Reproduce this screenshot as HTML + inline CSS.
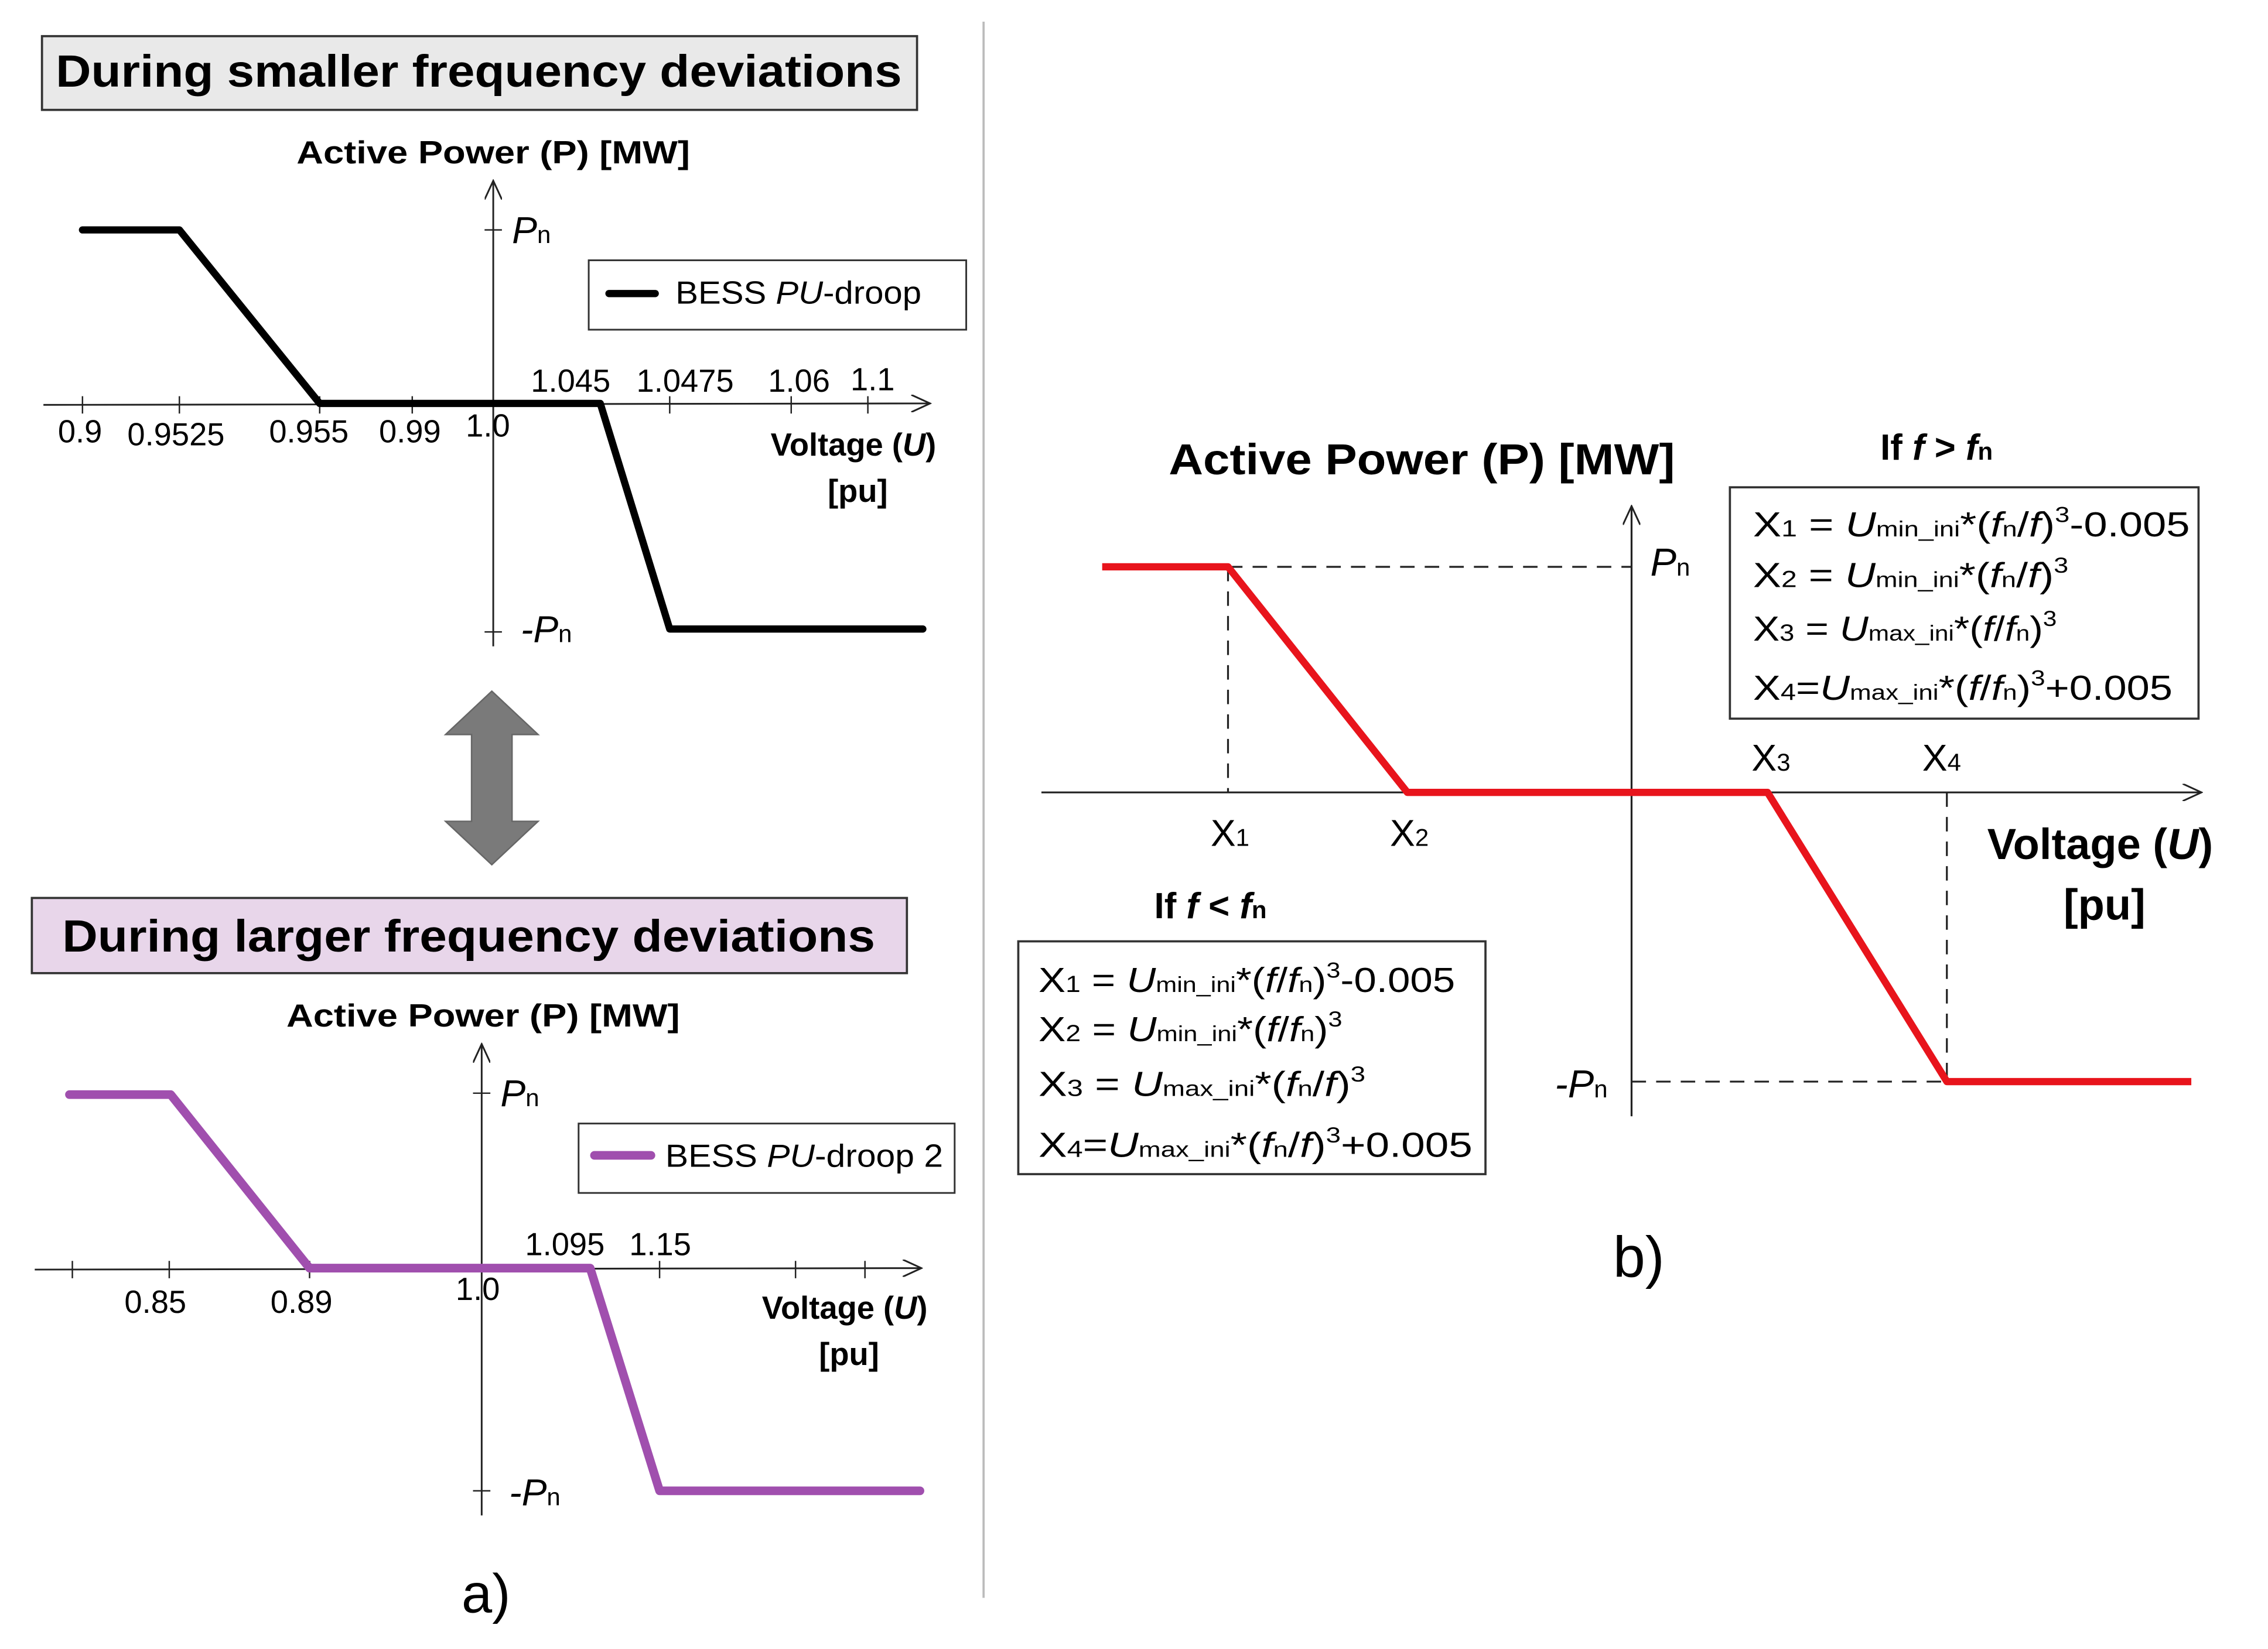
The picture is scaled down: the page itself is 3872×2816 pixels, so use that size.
<!DOCTYPE html>
<html><head><meta charset="utf-8"><style>
html,body{margin:0;padding:0;background:#fff;}
svg{display:block;}
text{font-family:"Liberation Sans",sans-serif;}
.b{font-weight:bold;}
</style></head><body>
<svg width="3872" height="2816" viewBox="0 0 1568 1140.4" xmlns="http://www.w3.org/2000/svg">
<defs>
<marker id="ar" markerWidth="14" markerHeight="12" refX="13" refY="6" orient="auto" markerUnits="userSpaceOnUse">
<path d="M0,0 L13,6 L0,12" fill="none" stroke="#222" stroke-width="1.2"/></marker>
</defs>
<rect width="1568" height="1140.4" fill="#fff"/>
<line x1="680" y1="15" x2="680" y2="1105" stroke="#bbb" stroke-width="1.5"/>

<!-- top-left -->
<rect x="29" y="25" width="605" height="51" fill="#e9e9e9" stroke="#333" stroke-width="1.5"/>
<text x="331" y="60" class="b" font-size="31" text-anchor="middle" textLength="585" lengthAdjust="spacingAndGlyphs">During smaller frequency deviations</text>
<text x="341" y="113" class="b" font-size="22" text-anchor="middle" textLength="272" lengthAdjust="spacingAndGlyphs">Active Power (P) [MW]</text>
<line x1="341" y1="447" x2="341" y2="125" stroke="#222" stroke-width="1.2" marker-end="url(#ar)"/>
<line x1="335" y1="159" x2="347" y2="159" stroke="#222"/>
<line x1="335" y1="437" x2="347" y2="437" stroke="#222"/>
<text x="354" y="168" font-size="26" font-style="italic">P<tspan font-size="17" font-style="normal">n</tspan></text>
<text x="360" y="444" font-size="26" font-style="italic">-P<tspan font-size="17" font-style="normal">n</tspan></text>
<rect x="407" y="180" width="261" height="48" fill="#fff" stroke="#333" stroke-width="1.2"/>
<line x1="421" y1="203" x2="453" y2="203" stroke="#000" stroke-width="5" stroke-linecap="round"/>
<text x="467" y="210" font-size="22" textLength="170" lengthAdjust="spacingAndGlyphs">BESS <tspan font-style="italic">PU</tspan>-droop</text>
<line x1="30" y1="280" x2="643" y2="279" stroke="#222" stroke-width="1.2" marker-end="url(#ar)"/>
<g stroke="#222"><line x1="57" y1="274" x2="57" y2="286"/><line x1="124" y1="274" x2="124" y2="286"/><line x1="221" y1="274" x2="221" y2="286"/><line x1="285" y1="274" x2="285" y2="286"/><line x1="463" y1="274" x2="463" y2="286"/><line x1="547" y1="274" x2="547" y2="286"/><line x1="600" y1="274" x2="600" y2="286"/></g>
<g font-size="22"><text x="40" y="306">0.9</text><text x="88" y="308">0.9525</text><text x="186" y="306">0.955</text><text x="262" y="306">0.99</text><text x="322" y="302">1.0</text>
<text x="367" y="271">1.045</text><text x="440" y="271">1.0475</text><text x="531" y="271">1.06</text><text x="588" y="270">1.1</text></g>
<polyline points="57,159 124,159 221,279 415,279 463,435 638,435" fill="none" stroke="#000" stroke-width="5" stroke-linejoin="round" stroke-linecap="round"/>
<text x="590" y="315" class="b" font-size="22" text-anchor="middle">Voltage (<tspan font-style="italic">U</tspan>)</text>
<text x="593" y="347" class="b" font-size="22" text-anchor="middle">[pu]</text>

<polygon points="340,478 372,508 354,508 354,568 372,568 340,598 308,568 326,568 326,508 308,508" fill="#7a7a7a" stroke="#666"/>

<!-- bottom-left -->
<rect x="22" y="621" width="605" height="52" fill="#e8d6ea" stroke="#333" stroke-width="1.5"/>
<text x="324" y="658" class="b" font-size="31" text-anchor="middle" textLength="562" lengthAdjust="spacingAndGlyphs">During larger frequency deviations</text>
<text x="334" y="710" class="b" font-size="22" text-anchor="middle" textLength="272" lengthAdjust="spacingAndGlyphs">Active Power (P) [MW]</text>
<line x1="333" y1="1048" x2="333" y2="722" stroke="#222" stroke-width="1.2" marker-end="url(#ar)"/>
<line x1="327" y1="756" x2="339" y2="756" stroke="#222"/>
<line x1="327" y1="1031" x2="339" y2="1031" stroke="#222"/>
<text x="346" y="765" font-size="26" font-style="italic">P<tspan font-size="17" font-style="normal">n</tspan></text>
<text x="352" y="1041" font-size="26" font-style="italic">-P<tspan font-size="17" font-style="normal">n</tspan></text>
<rect x="400" y="777" width="260" height="48" fill="#fff" stroke="#333" stroke-width="1.2"/>
<line x1="411" y1="799" x2="450" y2="799" stroke="#a04fae" stroke-width="6" stroke-linecap="round"/>
<text x="460" y="807" font-size="22" textLength="192" lengthAdjust="spacingAndGlyphs">BESS <tspan font-style="italic">PU</tspan>-droop 2</text>
<line x1="24" y1="878" x2="637" y2="877" stroke="#222" stroke-width="1.2" marker-end="url(#ar)"/>
<g stroke="#222"><line x1="50" y1="872" x2="50" y2="884"/><line x1="117" y1="872" x2="117" y2="884"/><line x1="214" y1="872" x2="214" y2="884"/><line x1="456" y1="872" x2="456" y2="884"/><line x1="550" y1="872" x2="550" y2="884"/><line x1="598" y1="872" x2="598" y2="884"/></g>
<g font-size="22"><text x="86" y="908">0.85</text><text x="187" y="908">0.89</text><text x="315" y="899">1.0</text><text x="363" y="868">1.095</text><text x="435" y="868">1.15</text></g>
<polyline points="48,757 118,757 214,877 408,877 456,1031 636,1031" fill="none" stroke="#a04fae" stroke-width="6" stroke-linejoin="round" stroke-linecap="round"/>
<text x="584" y="912" class="b" font-size="22" text-anchor="middle">Voltage (<tspan font-style="italic">U</tspan>)</text>
<text x="587" y="944" class="b" font-size="22" text-anchor="middle">[pu]</text>
<text x="336" y="1115" font-size="38" text-anchor="middle">a)</text>

<!-- right panel b -->
<text x="983" y="328" class="b" font-size="30" text-anchor="middle" textLength="350" lengthAdjust="spacingAndGlyphs">Active Power (P) [MW]</text>
<line x1="1128" y1="772" x2="1128" y2="350" stroke="#222" stroke-width="1.3" marker-end="url(#ar)"/>
<line x1="720" y1="548" x2="1522" y2="548" stroke="#222" stroke-width="1.3" marker-end="url(#ar)"/>
<g stroke="#222" stroke-width="1.3" stroke-dasharray="10,7" fill="none">
<line x1="849" y1="392" x2="1128" y2="392"/><line x1="849" y1="392" x2="849" y2="548"/>
<line x1="1128" y1="748" x2="1346" y2="748"/><line x1="1346" y1="548" x2="1346" y2="748"/></g>
<polyline points="762,392 849,392 973,548 1222,548 1346,748 1515,748" fill="none" stroke="#e8141c" stroke-width="5" stroke-linejoin="round"/>
<text x="1141" y="398" font-size="27" font-style="italic">P<tspan font-size="17" font-style="normal">n</tspan></text>
<text x="1075" y="759" font-size="27" font-style="italic">-P<tspan font-size="17" font-style="normal">n</tspan></text>
<g font-size="26"><text x="837" y="585">X<tspan font-size="17">1</tspan></text><text x="961" y="585">X<tspan font-size="17">2</tspan></text>
<text x="1211" y="533">X<tspan font-size="17">3</tspan></text><text x="1329" y="533">X<tspan font-size="17">4</tspan></text></g>
<text x="1452" y="594" class="b" font-size="30" text-anchor="middle">Voltage (<tspan font-style="italic">U</tspan>)</text>
<text x="1455" y="636" class="b" font-size="30" text-anchor="middle">[pu]</text>

<text x="1300" y="318" class="b" font-size="25">If <tspan font-style="italic">f</tspan> &gt; <tspan font-style="italic">f</tspan><tspan font-size="17">n</tspan></text>
<rect x="1196" y="337" width="324" height="160" fill="#fff" stroke="#333" stroke-width="1.5"/>
<g font-size="24">
<text x="1212" y="371" textLength="302" lengthAdjust="spacingAndGlyphs">X<tspan font-size="16">1</tspan> = <tspan font-style="italic">U</tspan><tspan font-size="15">min_ini</tspan>*(<tspan font-style="italic">f</tspan><tspan font-size="15">n</tspan>/<tspan font-style="italic">f</tspan>)<tspan font-size="15" dy="-10">3</tspan><tspan dy="10">-0.005</tspan></text>
<text x="1212" y="406" textLength="218" lengthAdjust="spacingAndGlyphs">X<tspan font-size="16">2</tspan> = <tspan font-style="italic">U</tspan><tspan font-size="15">min_ini</tspan>*(<tspan font-style="italic">f</tspan><tspan font-size="15">n</tspan>/<tspan font-style="italic">f</tspan>)<tspan font-size="15" dy="-10">3</tspan></text>
<text x="1212" y="443" textLength="210" lengthAdjust="spacingAndGlyphs">X<tspan font-size="16">3</tspan> = <tspan font-style="italic">U</tspan><tspan font-size="15">max_ini</tspan>*(<tspan font-style="italic">f</tspan>/<tspan font-style="italic">f</tspan><tspan font-size="15">n</tspan>)<tspan font-size="15" dy="-10">3</tspan></text>
<text x="1212" y="484" textLength="290" lengthAdjust="spacingAndGlyphs">X<tspan font-size="16">4</tspan>=<tspan font-style="italic">U</tspan><tspan font-size="15">max_ini</tspan>*(<tspan font-style="italic">f</tspan>/<tspan font-style="italic">f</tspan><tspan font-size="15">n</tspan>)<tspan font-size="15" dy="-10">3</tspan><tspan dy="10">+0.005</tspan></text>
</g>

<text x="798" y="635" class="b" font-size="25">If <tspan font-style="italic">f</tspan> &lt; <tspan font-style="italic">f</tspan><tspan font-size="17">n</tspan></text>
<rect x="704" y="651" width="323" height="161" fill="#fff" stroke="#333" stroke-width="1.5"/>
<g font-size="24">
<text x="718" y="686" textLength="288" lengthAdjust="spacingAndGlyphs">X<tspan font-size="16">1</tspan> = <tspan font-style="italic">U</tspan><tspan font-size="15">min_ini</tspan>*(<tspan font-style="italic">f</tspan>/<tspan font-style="italic">f</tspan><tspan font-size="15">n</tspan>)<tspan font-size="15" dy="-10">3</tspan><tspan dy="10">-0.005</tspan></text>
<text x="718" y="720" textLength="210" lengthAdjust="spacingAndGlyphs">X<tspan font-size="16">2</tspan> = <tspan font-style="italic">U</tspan><tspan font-size="15">min_ini</tspan>*(<tspan font-style="italic">f</tspan>/<tspan font-style="italic">f</tspan><tspan font-size="15">n</tspan>)<tspan font-size="15" dy="-10">3</tspan></text>
<text x="718" y="758" textLength="226" lengthAdjust="spacingAndGlyphs">X<tspan font-size="16">3</tspan> = <tspan font-style="italic">U</tspan><tspan font-size="15">max_ini</tspan>*(<tspan font-style="italic">f</tspan><tspan font-size="15">n</tspan>/<tspan font-style="italic">f</tspan>)<tspan font-size="15" dy="-10">3</tspan></text>
<text x="718" y="800" textLength="300" lengthAdjust="spacingAndGlyphs">X<tspan font-size="16">4</tspan>=<tspan font-style="italic">U</tspan><tspan font-size="15">max_ini</tspan>*(<tspan font-style="italic">f</tspan><tspan font-size="15">n</tspan>/<tspan font-style="italic">f</tspan>)<tspan font-size="15" dy="-10">3</tspan><tspan dy="10">+0.005</tspan></text>
</g>
<text x="1133" y="883" font-size="40" text-anchor="middle">b)</text>
</svg>
</body></html>
